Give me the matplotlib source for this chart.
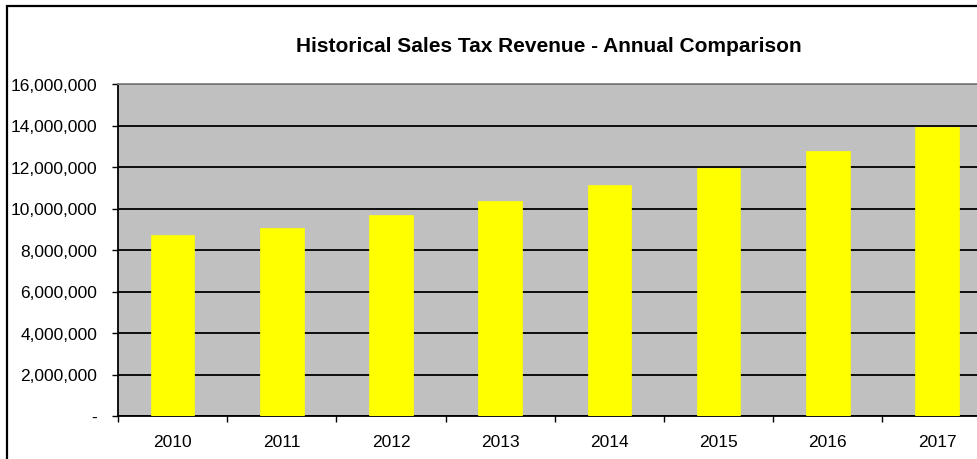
import numpy as np
import matplotlib
matplotlib.use('Agg')
from matplotlib import pyplot as plt
from matplotlib.patches import Rectangle
from matplotlib.ticker import FuncFormatter

years = ['2010', '2011', '2012', '2013', '2014', '2015', '2016', '2017']
revenue = [8700000, 9070000, 9710000, 10350000, 11140000, 11930000,
           12790000, 13930000]
title = 'Historical Sales Tax Revenue - Annual Comparison'


def money(v, pos=None):
    if v == 0:
        return '-'
    return '{:,.0f}'.format(v)


plt.rcParams['font.family'] = ['Liberation Sans', 'DejaVu Sans']

fig = plt.figure(figsize=(9.78, 4.6), dpi=100)

# chart border, runs off the right and bottom edges like the source
fig.patches.append(Rectangle((7 / 978, -0.1), 1.2, 1 - 7 / 460 + 0.1,
                             transform=fig.transFigure, fill=False,
                             edgecolor='black', linewidth=1.6))

ax = fig.add_axes([118 / 978, 1 - 417 / 460, 873.6 / 978, 332 / 460])
ax.set_facecolor('#c0c0c0')

x = np.arange(len(years))
ax.bar(x, revenue, width=0.4, color='#ffff00', edgecolor='#ffff00',
       linewidth=0.5, zorder=3)

ax.set_xlim(-0.5, len(years) - 0.5)
ax.set_ylim(0, 16000000)
ax.set_yticks(np.arange(0, 16000001, 2000000))
ax.yaxis.set_major_formatter(FuncFormatter(money))
ax.grid(axis='y', color='black', linewidth=1.3, zorder=1)
ax.set_axisbelow(True)

ax.set_xticks(x)
ax.set_xticklabels(years)
ax.set_xticks(np.arange(-0.5, len(years)), minor=True)
ax.tick_params(axis='x', which='major', length=0, pad=13, labelsize=12.5)
ax.tick_params(axis='x', which='minor', length=4, width=1, direction='out')
ax.tick_params(axis='y', length=4, width=1, direction='out', pad=11,
               labelsize=12.5)

ax.spines['left'].set_linewidth(1.3)
ax.spines['bottom'].set_linewidth(1.3)
ax.spines['top'].set_color('#808080')
ax.spines['top'].set_linewidth(1.3)
ax.spines['right'].set_visible(False)

fig.text(549 / 978, 1 - 46 / 460, title, ha='center', va='center',
         fontsize=15, fontweight='bold')

fig.savefig('out.png', dpi=100)
